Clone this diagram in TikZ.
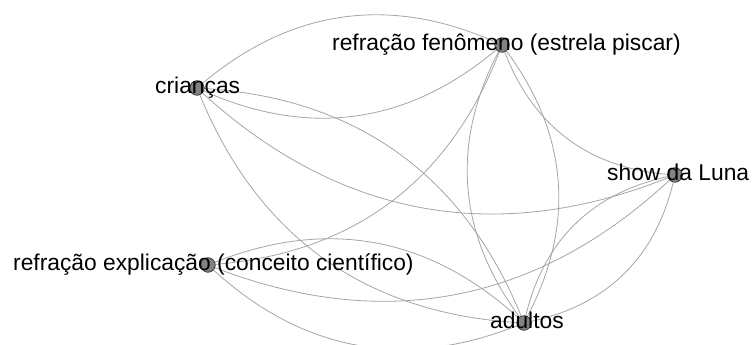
\documentclass[tikz,border=0pt]{standalone}
\usepackage{fontspec}
\setmainfont{Liberation Sans}
\usetikzlibrary{backgrounds}
\definecolor{edgegray}{RGB}{165,165,165}
\definecolor{vfill}{RGB}{130,130,130}
\definecolor{vborder}{RGB}{45,45,45}
\begin{document}
\begin{tikzpicture}[x=1pt,y=1pt,
  vertex/.style={circle, fill=vfill, draw=vborder, line width=0.7pt,
                 minimum size=14.5pt, inner sep=0pt},
  vlabel/.style={anchor=base west, inner sep=0pt, text=black,
                 font=\fontsize{22.8}{27}\selectfont},
  link/.style={draw=edgegray, line width=0.8pt}]
  \useasboundingbox (0,0) rectangle (752,345);

  % vertices
  \node[vertex] (criancas)   at (197,257) {};
  \node[vertex] (fenomeno)   at (502,300) {};
  \node[vertex] (luna)       at (675,170) {};
  \node[vertex] (explicacao) at (208,80)  {};
  \node[vertex] (adultos)    at (524,22)  {};

  % edges, kept beneath the vertices
  \begin{pgfonlayer}{background}
    \draw[link] (criancas)   to[bend left=32]  (fenomeno);
    \draw[link] (criancas)   to[bend right=32] (fenomeno);
    \draw[link] (criancas)   to[bend left=32]  (adultos);
    \draw[link] (criancas)   to[bend right=32] (adultos);
    \draw[link] (criancas)   to[bend right=32] (luna);
    \draw[link] (explicacao) to[bend right=32] (fenomeno);
    \draw[link] (fenomeno)   to[bend left=32]  (adultos);
    \draw[link] (fenomeno)   to[bend right=32] (adultos);
    \draw[link] (fenomeno)   to[bend right=32] (luna);
    \draw[link] (adultos)    to[bend left=32]  (luna);
    \draw[link] (adultos)    to[bend right=32] (luna);
    \draw[link] (explicacao) to[bend right=32] (luna);
    \draw[link] (explicacao) to[bend left=32]  (adultos);
    \draw[link] (explicacao) to[bend right=32] (adultos);
  \end{pgfonlayer}

  % labels, printed over the vertices
  \node[vlabel] (criancas-l)   at (155,251.5) {crianças};
  \node[vlabel] (fenomeno-l)   at (332,294)   {refração fenômeno (estrela piscar)};
  \node[vlabel] (luna-l)       at (607,164.5) {show da Luna};
  \node[vlabel] (explicacao-l) at (13,74.5)   {refração explicação (conceito científico)};
  \node[vlabel] (adultos-l)    at (490,16.5)  {adultos};
\end{tikzpicture}
\end{document}
